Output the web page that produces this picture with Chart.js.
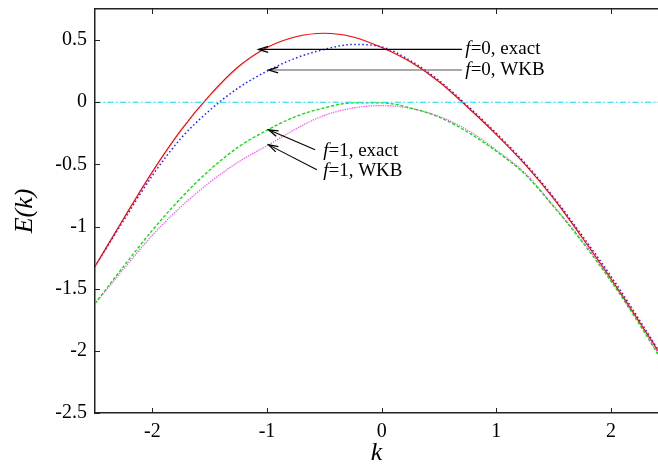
<!DOCTYPE html>
<html>
<head>
<meta charset="utf-8">
<script src="https://cdn.jsdelivr.net/npm/chart.js@4.4.1/dist/chart.umd.min.js"></script>
<style>
  html, body { margin:0; padding:0; background:#fff; overflow:hidden; }
  #wrap { width:658px; height:466px; position:relative; }
  #probe { position:absolute; left:-999px; top:0; font-family:"Liberation Serif"; }
</style>
</head>
<body>
<span id="probe">0.5 <i>f</i>=0, exact</span>
<div id="wrap"><canvas id="c" width="658" height="466"></canvas></div>
<script>
// values, E(k) at each k
const kValues = [-2.5,-2.25,-2,-1.75,-1.5,-1.25,-1,-0.75,-0.5,-0.25,0,0.25,0.5,0.75,1,1.25,1.5,1.75,2,2.25,2.41];
const exact0  = [-1.32,-0.935,-0.56,-0.225,0.055,0.285,0.44,0.527,0.555,0.525,0.44,0.325,0.165,-0.04,-0.26,-0.50,-0.775,-1.09,-1.42,-1.77,-2.0];
const wkb0    = [-1.32,-0.95,-0.59,-0.29,-0.065,0.115,0.25,0.355,0.425,0.465,0.445,0.335,0.175,-0.03,-0.25,-0.49,-0.765,-1.075,-1.40,-1.755,-1.99];
const exact1  = [-1.62,-1.32,-1.03,-0.77,-0.545,-0.36,-0.225,-0.115,-0.045,-0.005,-0.005,-0.045,-0.12,-0.24,-0.395,-0.58,-0.84,-1.125,-1.44,-1.79,-2.03];
const wkb1    = [-1.62,-1.34,-1.07,-0.84,-0.645,-0.48,-0.35,-0.215,-0.106,-0.046,-0.027,-0.049,-0.115,-0.225,-0.385,-0.57,-0.835,-1.115,-1.43,-1.78,-2.02];
const zeroK   = [-2.5, 2.41];
const zeroE   = [0, 0];

const xTicks = [-2, -1, 0, 1, 2];
const yTicks = [0.5, 0, -0.5, -1, -1.5, -2, -2.5];

// labels with arrows: [k, E] of tail, tip and text
const notes = [
  { pre:'f', text:'=0, exact', tail:[0.70, 0.425],  tip:[-1.073, 0.425],  at:[0.73, 0.425],  color:'#000' },
  { pre:'f', text:'=0, WKB',   tail:[0.70, 0.259],  tip:[-0.986, 0.259],  at:[0.73, 0.259],  color:'#555' },
  { pre:'f', text:'=1, exact', tail:[-0.58, -0.383], tip:[-0.986, -0.222], at:[-0.51, -0.396], color:'#000' },
  { pre:'f', text:'=1, WKB',   tail:[-0.565, -0.543], tip:[-0.986, -0.343], at:[-0.51, -0.557], color:'#000' }
];

const pts = (xs, ys) => xs.map((x, i) => ({ x: x, y: ys[i] }));
const serif = '"Liberation Serif", "Times New Roman", Times, serif';

const innerTicks = {
  id: 'innerTicks',
  afterDraw(chart) {
    const { ctx, chartArea: a, scales } = chart;
    ctx.save();
    ctx.strokeStyle = '#222';
    ctx.lineWidth = 1;
    ctx.beginPath();
    xTicks.forEach(v => {
      const x = Math.round(scales.x.getPixelForValue(v)) + 0.5;
      ctx.moveTo(x, a.bottom); ctx.lineTo(x, a.bottom - 5);
      ctx.moveTo(x, a.top); ctx.lineTo(x, a.top + 5);
    });
    yTicks.forEach(v => {
      const y = Math.round(scales.y.getPixelForValue(v)) + 0.5;
      ctx.moveTo(a.left, y); ctx.lineTo(a.left + 5, y);
    });
    ctx.stroke();
    ctx.restore();
  }
};

const arrows = {
  id: 'arrows',
  afterDatasetsDraw(chart) {
    const { ctx, scales } = chart;
    const P = p => [scales.x.getPixelForValue(p[0]), scales.y.getPixelForValue(p[1])];
    ctx.save();
    notes.forEach(n => {
      const [x0, y0] = P(n.tail), [x1, y1] = P(n.tip);
      ctx.strokeStyle = n.color;
      ctx.lineWidth = 1.1;
      ctx.beginPath(); ctx.moveTo(x0, y0); ctx.lineTo(x1, y1); ctx.stroke();
      const ang = Math.atan2(y1 - y0, x1 - x0), h = 10, w = 0.3;
      ctx.strokeStyle = '#000';
      ctx.lineWidth = 1.3;
      ctx.beginPath();
      ctx.moveTo(x1 - h * Math.cos(ang - w), y1 - h * Math.sin(ang - w));
      ctx.lineTo(x1, y1);
      ctx.lineTo(x1 - h * Math.cos(ang + w), y1 - h * Math.sin(ang + w));
      ctx.stroke();
      const [tx, ty] = P(n.at);
      ctx.fillStyle = '#000';
      ctx.textBaseline = 'middle';
      ctx.textAlign = 'left';
      ctx.font = 'italic 19px ' + serif;
      ctx.fillText(n.pre, tx, ty);
      const fw = ctx.measureText(n.pre).width;
      ctx.font = '19px ' + serif;
      ctx.fillText(n.text, tx + fw, ty);
    });
    ctx.restore();
  }
};

const line = (label, data, color, dash, width) => ({
  label, data: data, borderColor: color, borderDash: dash, borderWidth: width,
  pointRadius: 0, fill: false, cubicInterpolationMode: 'monotone'
});

function draw() {
  new Chart(document.getElementById('c'), {
    type: 'line',
    data: {
      datasets: [
        line('zero', pts(zeroK, zeroE), '#00e0f0', [6, 2.5, 1.5, 2.5], 1.2),
        line('f=0, exact', pts(kValues, exact0), '#ff0000', [], 1.2),
        line('f=1, exact', pts(kValues, exact1), '#00e000', [3, 2], 1.3),
        line('f=1, WKB', pts(kValues, wkb1), '#f050f0', [1.2, 1.2], 1.3),
        line('f=0, WKB', pts(kValues, wkb0), '#1a1aff', [1.5, 2.5], 1.5)
      ]
    },
    options: {
      responsive: false,
      animation: false,
      layout: { padding: 0 },
      plugins: { legend: { display: false }, tooltip: { enabled: false } },
      scales: {
        x: {
          type: 'linear', position: 'bottom', min: -2.5, max: 2.41,
          afterBuildTicks: s => { s.ticks = xTicks.map(v => ({ value: v })); },
          grid: { display: false, drawTicks: false },
          border: { display: true, color: '#222', width: 1.5 },
          ticks: { color: '#000', font: { family: serif, size: 20 }, padding: 7, maxRotation: 0, autoSkip: false, callback: v => String(v) },
          title: { display: true, text: 'k', color: '#000', font: { family: serif, size: 26, style: 'italic', lineHeight: 1 }, padding: 0 },
          afterFit: s => { s.height = 53; s.paddingLeft = 0; s.paddingRight = 0; }
        },
        x2: {
          type: 'linear', position: 'top', min: -2.5, max: 2.41,
          grid: { display: false, drawTicks: false },
          border: { display: true, color: '#222', width: 1.5 },
          ticks: { display: false },
          afterFit: s => { s.height = 9; s.paddingLeft = 0; s.paddingRight = 0; }
        },
        y: {
          type: 'linear', position: 'left', min: -2.5, max: 0.75,
          afterBuildTicks: s => { s.ticks = yTicks.map(v => ({ value: v })); },
          grid: { display: false, drawTicks: false },
          border: { display: true, color: '#222', width: 1.5 },
          ticks: { color: '#000', font: { family: serif, size: 20 }, padding: 8, autoSkip: false, callback: v => String(v) },
          title: { display: true, text: 'E(k)', color: '#000', font: { family: serif, size: 26, style: 'italic', lineHeight: 1 }, padding: { top: 12, bottom: 0 } },
          afterFit: s => { s.width = 95; s.paddingTop = 0; s.paddingBottom = 0; }
        }
      }
    },
    plugins: [innerTicks, arrows]
  });
}

Promise.all([
  document.fonts.load('20px "Liberation Serif"'),
  document.fonts.load('italic 20px "Liberation Serif"')
]).then(draw, draw);
</script>
</body>
</html>
